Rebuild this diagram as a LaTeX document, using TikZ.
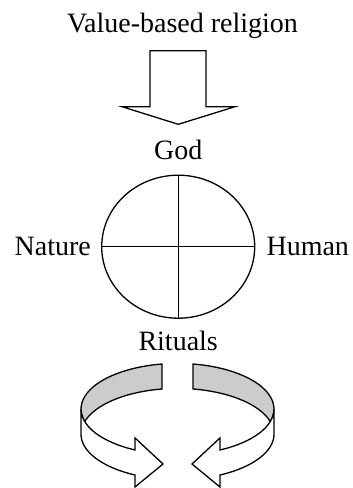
\documentclass[tikz,border=0pt]{standalone}
\usepackage{fontspec}
\setmainfont{Liberation Serif}
\usepackage{tikz}
\usetikzlibrary{positioning, shapes.geometric}
\definecolor{RingGray}{RGB}{204,204,204}

% one half of the ritual cycle (left arrow; mirrored for the right one)
\newcommand{\ritualarrow}{%
  \filldraw[band, fill=RingGray] (162,-364)
    arc[start angle=99.5, end angle=195.87, x radius=97, y radius=45.7]
    arc[start angle=164.13, end angle=99.5, x radius=97, y radius=45.7] -- cycle;
  \filldraw[band, fill=white] (81,-409)
    arc[start angle=180, end angle=243.7, x radius=97, y radius=45.7]
    -- ++(0,12) -- (163,-464) -- (135,-487) -- (135,-475)
    arc[start angle=243.7, end angle=180, x radius=97, y radius=45.7] -- cycle;
}

\begin{document}
\begin{tikzpicture}[
  x=1pt, y=1pt,
  every node/.style={font=\fontsize{28}{30}\selectfont, inner sep=0pt},
  word/.style={align=center},
  wheel/.style={draw, ellipse, line width=1.3pt, minimum width=153pt, minimum height=143pt},
  spoke/.style={line width=1.3pt},
  blockarrow/.style={draw, line width=1.3pt, fill=white},
  band/.style={draw, line width=1.3pt}
]
\useasboundingbox (0,0) rectangle (353,-488);

% Top: title and block arrow
\node[word, anchor=base] (title) at (182.5,-32.3) {Value-based religion};
\draw[blockarrow] (150,-50.7) -- (206,-50.7) -- (206,-106.7) -- (235,-106.7)
  -- (178.3,-124.3) -- (122,-106.7) -- (150,-106.7) -- cycle;

% Middle: the wheel with its four labels
\node[wheel] (wheel) at (178.2,-246.7) {};
\draw[spoke] (wheel.north) -- (wheel.south);
\draw[spoke] (wheel.west) -- (wheel.east);
\node[word, above=15pt of wheel] (god) {God};
\node[word, below=12pt of wheel] (rituals) {Rituals};
\node[word, left=10pt of wheel] (nature) {Nature};
\node[word, right=11pt of wheel] (human) {Human};

% Bottom: the cycle of rituals
\ritualarrow
\begin{scope}[shift={(355,0)}, xscale=-1]
  \ritualarrow
\end{scope}

\end{tikzpicture}
\end{document}
